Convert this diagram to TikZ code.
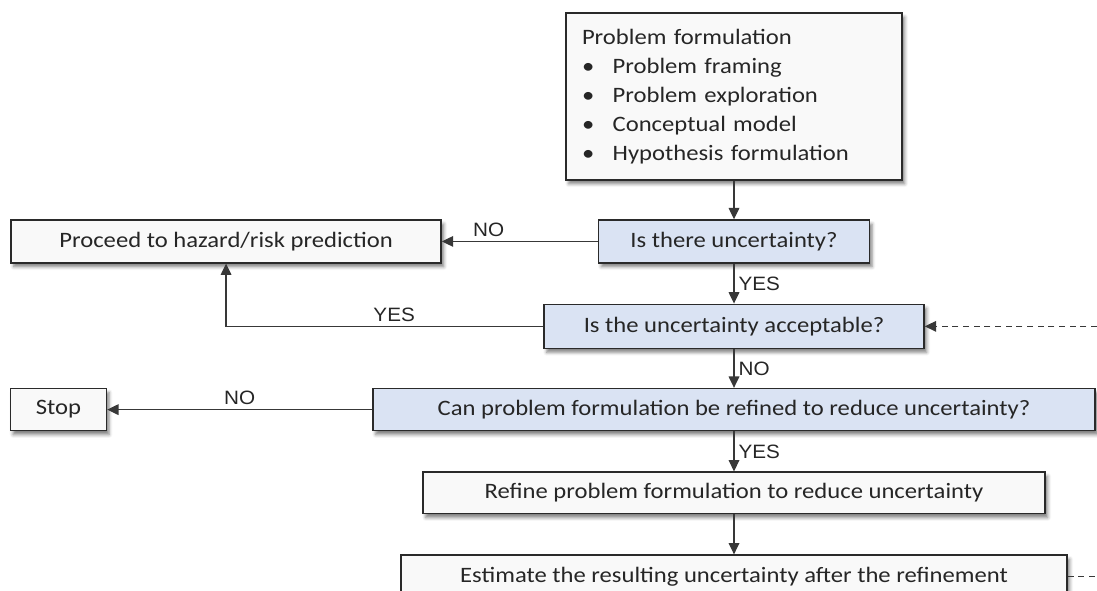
\documentclass[tikz,border=0pt]{standalone}
\usepackage{fontspec}
\setmainfont{Carlito}[FakeStretch=1.12]
\newfontfamily\lblfont{Liberation Sans}[FakeStretch=1.07]
\usepackage{tikz}
\usetikzlibrary{arrows.meta, positioning, shadows.blur}
\definecolor{boxline}{HTML}{2A2A2A}
\definecolor{wire}{HTML}{383838}
\definecolor{ink}{HTML}{262626}
\definecolor{paper}{HTML}{F9F9F9}
\definecolor{query}{HTML}{DAE3F3}
\tikzset{arrow/.style={-{Triangle[length=8.5pt,width=8pt]}, line width=0.9pt, draw=wire}}

\begin{document}
\begin{tikzpicture}[
        x=0.75pt, y=0.75pt,
        base/.style ={draw=boxline, line width=1.2pt, fill=paper, text=ink,
                      font=\fontsize{16.5}{21.75}\selectfont, align=center,
                      blur shadow={shadow xshift=2pt, shadow yshift=-3pt,
                                   shadow blur radius=2.5pt, shadow opacity=50}},
        plainbox/.style={base, fill=paper},
        querybox/.style={base, fill=query},
        answer/.style  ={font=\lblfont\fontsize{14.5}{17}\selectfont, text=ink, inner sep=3pt},
        feedback/.style={line width=0.9pt, draw=wire, dash pattern=on 4.5pt off 3.5pt}
    ]
    \useasboundingbox (0,0) rectangle (1097,-591);

    % --- nodes ---
    \node[plainbox, align=left, text width=228pt, inner xsep=12pt, minimum height=125pt]
        (prob) at (734,-96.5)
        {Problem formulation\\
         \makebox[23pt][l]{•}Problem framing\\
         \makebox[23pt][l]{•}Problem exploration\\
         \makebox[23pt][l]{•}Conceptual model\\
         \makebox[23pt][l]{•}Hypothesis formulation};

    \node[querybox, below=29pt of prob, minimum width=203pt, minimum height=32pt] (isunc) {Is there uncertainty?};

    \node[querybox, below=30pt of isunc, minimum width=285pt, minimum height=33pt] (accept) {Is the uncertainty acceptable?};

    \node[querybox, below=29pt of accept, minimum width=541.5pt, minimum height=31.5pt] (refinable) {Can problem formulation be refined to reduce uncertainty?};

    \node[plainbox, below=30pt of refinable, minimum width=466.5pt, minimum height=31pt] (refine) {Refine problem formulation to reduce uncertainty};

    \node[plainbox, below=30pt of refine, minimum width=499.5pt, minimum height=32pt] (estimate) {Estimate the resulting uncertainty after the refinement};

    \node[plainbox, left=117pt of isunc, minimum width=322.5pt, minimum height=32pt] (proceed) {Proceed to hazard/risk prediction};

    \node[plainbox, left=198.75pt of refinable, minimum width=72pt, minimum height=31.5pt] (stop) {Stop};

    \coordinate (rim) at (1097,0);

    % --- arrows ---
    \draw[arrow] (prob) -- (isunc);
    \draw[arrow] (isunc.west) -- node[answer, above, pos=0.7]{NO} (isunc.west -| proceed.east);
    \draw[arrow] (isunc) -- node[answer, right]{YES} (accept);
    \draw[arrow] (accept.west) -| node[answer, above, pos=0.235]{YES} (proceed.south);
    \draw[arrow] (accept) -- node[answer, right]{NO} (refinable);
    \draw[arrow] (refinable.west) -- node[answer, above]{NO} (refinable.west -| stop.east);
    \draw[arrow] (refinable) -- node[answer, right]{YES} (refine);
    \draw[arrow] (refine) -- (estimate);
    \draw[feedback] (estimate.east) -- (estimate.east -| rim);
    \draw[feedback, arrow] (accept.east -| rim) -- (accept.east);

    \end{tikzpicture}
\end{document}
